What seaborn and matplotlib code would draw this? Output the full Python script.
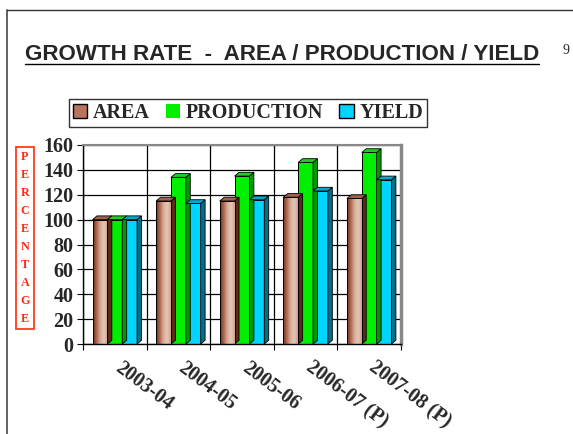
import numpy as np
import pandas as pd
import seaborn as sns
import matplotlib.pyplot as plt
import matplotlib.transforms as mtransforms
from matplotlib.patches import Polygon, Patch
from matplotlib.lines import Line2D
from matplotlib.colors import LinearSegmentedColormap

# values
years = ["2003-04", "2004-05", "2005-06", "2006-07 (P)", "2007-08 (P)"]
area = [100, 115, 115, 118, 117]
production = [100, 134, 135, 146, 154]
yield_ = [100, 113, 116, 123, 132]
series = ["AREA", "PRODUCTION", "YIELD"]
yticks = [0, 20, 40, 60, 80, 100, 120, 140, 160]

df = pd.DataFrame({
    "year": years * 3,
    "series": np.repeat(series, len(years)),
    "value": area + production + yield_,
})

sns.set_theme(style="white")
plt.rcParams["font.family"] = ["Liberation Serif", "DejaVu Serif"]

fig = plt.figure(figsize=(5.73, 4.34), dpi=100)
ax = fig.add_axes([83 / 573, 1 - 344 / 434, 318 / 573, 199 / 434])

palette = {"AREA": "#b8745c", "PRODUCTION": "#00ee00", "YIELD": "#00d4ff"}
side = {"AREA": "#5c2a18", "PRODUCTION": "#009a00", "YIELD": "#006f88"}
top = {"AREA": "#a0604a", "PRODUCTION": "#22cc22", "YIELD": "#00a8cc"}

sns.barplot(data=df, x="year", y="value", hue="series", palette=palette,
            width=0.7, saturation=1, edgecolor="black", linewidth=0.7,
            errorbar=None, legend=False, ax=ax)

# brown gradient for the area bars + fake 3d faces
brown = LinearSegmentedColormap.from_list("brown", ["#6e2e1a", "#b06850", "#d8ac98", "#e4c6b6", "#d0a08c"])
grad = np.linspace(0, 1, 64).reshape(1, -1)
dx, dy = 0.07, 3.0
bars = list(ax.patches)
for bar, s in zip(bars, np.repeat(series, len(years))):
    x, w, h = bar.get_x(), bar.get_width(), bar.get_height()
    ax.add_patch(Polygon([(x + w, 0), (x + w + dx, dy), (x + w + dx, h + dy), (x + w, h)],
                         closed=True, fc=side[s], ec="black", lw=0.6, zorder=bar.get_zorder()))
    ax.add_patch(Polygon([(x, h), (x + dx, h + dy), (x + w + dx, h + dy), (x + w, h)],
                         closed=True, fc=top[s], ec="black", lw=0.6, zorder=bar.get_zorder()))
    if s == "AREA":
        im = ax.imshow(grad, extent=(x, x + w, 0, h), aspect="auto", cmap=brown,
                       zorder=bar.get_zorder() + 0.1)
        im.set_clip_path(bar)
        bar.set_facecolor("none")
        bar.set_zorder(bar.get_zorder() + 0.2)

ax.set_xlim(-0.5, 4.5)
ax.set_ylim(0, 160)
ax.set_yticks(yticks)
ax.set_xticks(np.arange(-0.5, 5, 1), minor=True)
ax.set_axisbelow(True)
ax.yaxis.grid(True, color="black", lw=0.9)
ax.xaxis.grid(True, which="minor", color="black", lw=0.9)
ax.set_xlabel("")
ax.set_ylabel("")

ax.tick_params(axis="y", left=True, length=4, width=0.8, color="black", pad=3,
               labelsize=14.5)
ax.tick_params(axis="x", which="major", bottom=False, length=0, pad=10, labelsize=14.5)
ax.tick_params(axis="x", which="minor", bottom=True, length=4, width=0.8, color="black")
for lab in ax.get_yticklabels():
    lab.set_fontweight("bold")
ax.set_xticks(range(len(years)))
ax.set_xticklabels(years, rotation=-37, ha="left", va="top", rotation_mode="anchor",
                   fontweight="bold")
shift = mtransforms.ScaledTranslation(8 / 100, 0, fig.dpi_scale_trans)
for lab in ax.get_xticklabels():
    lab.set_transform(lab.get_transform() + shift)
for sp in ["left", "bottom"]:
    ax.spines[sp].set_color("black")
    ax.spines[sp].set_linewidth(1.0)
ax.spines["top"].set_color("#888888")
ax.spines["top"].set_linewidth(1.5)
ax.spines["right"].set_color("#888888")
ax.spines["right"].set_linewidth(2.5)

# legend
handles = [Patch(fc=palette[s], ec="black", lw=1.0) for s in series]
handles[1] = Patch(fc=palette["PRODUCTION"], ec="none")
fig.legend(handles, series, loc="center", bbox_to_anchor=(248 / 573, 1 - 113 / 434),
           ncol=3, frameon=True, fancybox=False, edgecolor="#333333", framealpha=1,
           prop={"family": "Liberation Serif", "weight": "bold", "size": 14.5},
           handlelength=0.7, handleheight=0.7, handletextpad=0.3,
           columnspacing=0.8, borderpad=0.2, borderaxespad=0)

# title with underline
title = fig.text(25 / 573, 1 - 54 / 434, "GROWTH RATE  -  AREA / PRODUCTION / YIELD",
                 family="Liberation Sans", weight="bold", fontsize=16.1,
                 ha="left", va="center")
fig.canvas.draw()
bb = title.get_window_extent().transformed(fig.transFigure.inverted())
fig.add_artist(Line2D([bb.x0, bb.x1], [1 - 64 / 434] * 2, color="black", lw=1.0))
fig.text(566 / 573, 1 - 50 / 434, "9", family="Liberation Serif", fontsize=10,
         ha="center", va="center")

# vertical axis label in a red box
fig.text(25 / 573, 1 - 238 / 434, "\n".join("PERCENTAGE"), color="#ff2a10",
         family="Liberation Serif", weight="bold", fontsize=8.7, ha="center",
         va="center", linespacing=1.66,
         bbox=dict(boxstyle="square,pad=0.35", fc="white", ec="#ff3a1a", lw=1.3))

# page frame
fig.add_artist(Line2D([7 / 573, 7 / 573], [0, 1 - 10 / 434], color="#555555", lw=1.3))
fig.add_artist(Line2D([7 / 573, 1], [1 - 10 / 434] * 2, color="#333333", lw=1.0))

fig.savefig("out.png", dpi=100)
